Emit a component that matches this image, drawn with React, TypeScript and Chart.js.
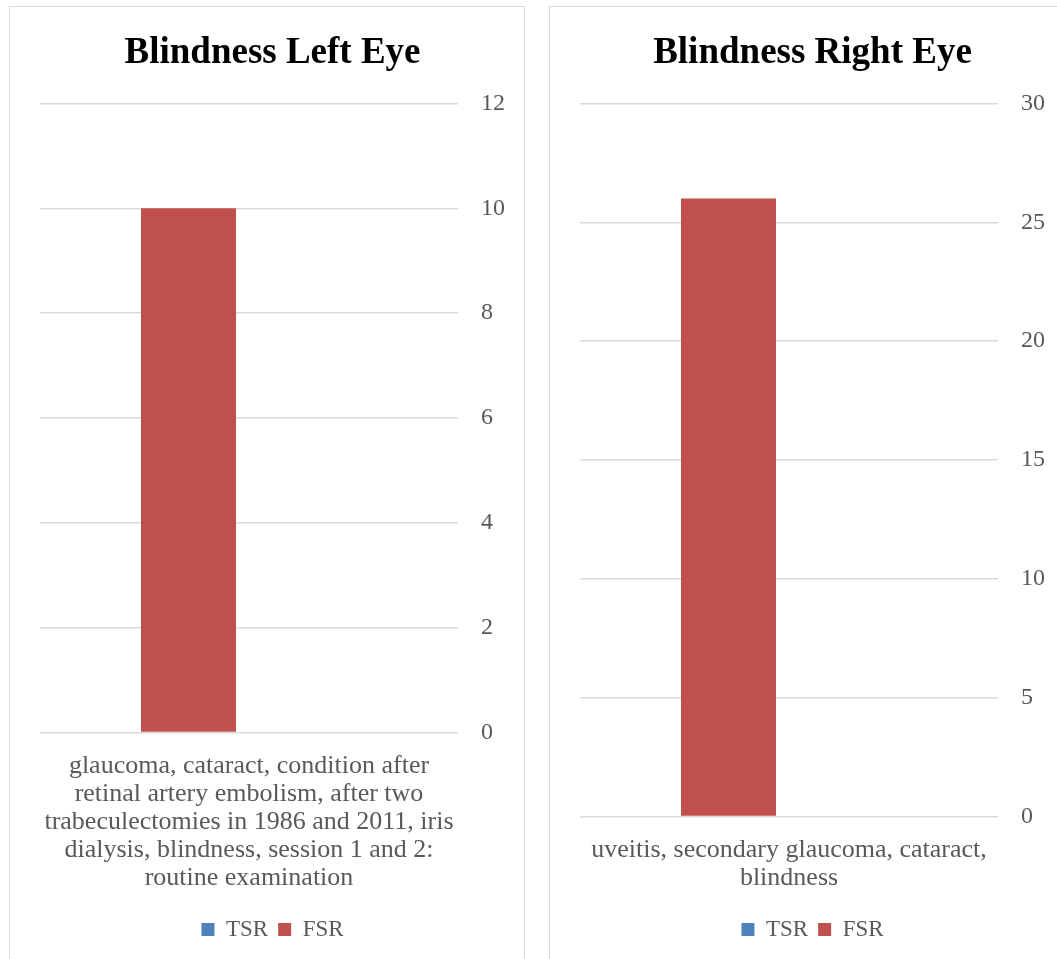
import React, { useEffect, useRef } from "react";
import { Chart, registerables } from "chart.js";

Chart.register(...registerables);

const seriesNames = ["TSR", "FSR"];
const seriesColors = ["#4F81BD", "#C0504D"];

const leftTitle = "Blindness Left Eye";
const leftCategory = [
  "glaucoma, cataract, condition after",
  "retinal artery embolism, after two",
  "trabeculectomies in 1986 and 2011, iris",
  "dialysis, blindness, session 1 and 2:",
  "routine examination",
];
const leftTSR = [0];
const leftFSR = [10];
const leftTicks = [0, 2, 4, 6, 8, 10, 12];

const rightTitle = "Blindness Right Eye";
const rightCategory = ["uveitis, secondary glaucoma, cataract,", "blindness"];
const rightTSR = [0];
const rightFSR = [26];
const rightTicks = [0, 5, 10, 15, 20, 25, 30];

const SERIF = "'Liberation Serif', 'Times New Roman', serif";
const TEXT = "#595959";
const GRID = "#D9D9D9";
const X_LINE = 28;
const X_PAD = 20;

type PanelProps = {
  title: string;
  category: string[];
  tsr: number[];
  fsr: number[];
  ticks: number[];
  left: number;
};

function ChartPanel({ title, category, tsr, fsr, ticks, left }: PanelProps) {
  const ref = useRef<HTMLCanvasElement | null>(null);

  useEffect(() => {
    if (!ref.current) return;
    const xHeight = X_PAD + category.length * X_LINE + 15.5;
    const chart = new Chart(ref.current, {
      type: "bar",
      data: {
        labels: [category],
        datasets: [
          {
            label: seriesNames[0],
            data: tsr,
            backgroundColor: seriesColors[0],
            order: 1,
            categoryPercentage: 0.579,
            barPercentage: 0.785,
          },
          {
            label: seriesNames[1],
            data: fsr,
            backgroundColor: seriesColors[1],
            order: 0,
            categoryPercentage: 0.579,
            barPercentage: 0.785,
          },
        ],
      },
      options: {
        responsive: false,
        animation: false,
        layout: { padding: { left: 30, right: 19, top: 0, bottom: 8 } },
        plugins: {
          title: {
            display: true,
            text: title,
            color: "#000000",
            font: { family: SERIF, size: 37, weight: "bold", lineHeight: 1.2 },
            padding: { top: 24, bottom: 28 },
          },
          legend: {
            position: "bottom",
            labels: {
              boxWidth: 13,
              boxHeight: 13,
              padding: 10,
              color: TEXT,
              font: { family: SERIF, size: 23 },
              sort: (a: any, b: any) => a.datasetIndex - b.datasetIndex,
            },
          },
          tooltip: { enabled: false },
        },
        scales: {
          x: {
            grid: { display: false, drawTicks: false },
            border: { display: false },
            ticks: {
              color: TEXT,
              font: { family: SERIF, size: 26, lineHeight: X_LINE + "px" },
              padding: X_PAD,
              maxRotation: 0,
              minRotation: 0,
              autoSkip: false,
            },
            afterFit: (s: any) => {
              s.height = xHeight;
              s.paddingLeft = 0;
              s.paddingRight = 0;
            },
          },
          y: {
            position: "right",
            min: ticks[0],
            max: ticks[ticks.length - 1],
            ticks: {
              stepSize: ticks[1] - ticks[0],
              color: TEXT,
              font: { family: SERIF, size: 24 },
              padding: 23,
            },
            grid: { color: GRID, lineWidth: 1.5, drawTicks: false },
            border: { display: false },
            afterFit: (s: any) => {
              s.width = 47;
            },
          },
        },
      } as any,
    });
    return () => chart.destroy();
  }, []);

  return (
    <div
      style={{
        position: "absolute",
        left,
        top: 6,
        width: 514,
        height: 1000,
        border: "1px solid #D9D9D9",
        background: "#fff",
      }}
    >
      <canvas ref={ref} width={514} height={952} style={{ display: "block" }} />
    </div>
  );
}

export default function App() {
  return (
    <div
      style={{
        position: "fixed",
        left: 0,
        top: 0,
        right: 0,
        bottom: 0,
        overflow: "hidden",
        background: "#fff",
      }}
    >
      <ChartPanel
        title={leftTitle}
        category={leftCategory}
        tsr={leftTSR}
        fsr={leftFSR}
        ticks={leftTicks}
        left={9}
      />
      <ChartPanel
        title={rightTitle}
        category={rightCategory}
        tsr={rightTSR}
        fsr={rightFSR}
        ticks={rightTicks}
        left={549}
      />
    </div>
  );
}
